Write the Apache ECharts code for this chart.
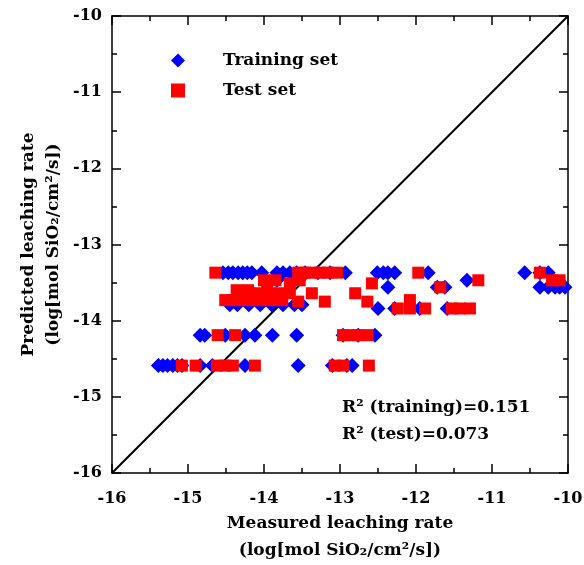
<!DOCTYPE html>
<html>
<head>
<meta charset="utf-8">
<script src="https://cdn.jsdelivr.net/npm/echarts@6/dist/echarts.min.js"></script>
<style>
  html, body { margin: 0; padding: 0; background: #fff; }
  #chart { width: 584px; height: 565px; }
</style>
</head>
<body>
<div id="chart"></div>
<script>
// measured (x) and predicted (y), log[mol SiO2/cm2/s]
const trainX = [
  -14.54, -14.47, -14.41, -14.34, -14.28, -14.22, -14.16, -14.03, -13.83, -13.75, -13.66, -13.57, -13.46, -13.29, -13.13, -12.93,
  -12.51, -12.43, -12.37, -12.28, -11.84, -10.57, -10.37, -10.26,
  -13.83, -11.33, -12.37, -11.72, -11.62, -10.37, -10.26, -10.17, -10.11, -10.04,
  -14.45, -14.35, -14.2, -14.05, -13.9, -13.75, -13.6, -13.5,
  -12.5, -12.28, -11.95, -11.59,
  -14.84, -14.78, -14.51, -14.25, -14.12, -13.89, -13.57, -12.54, -12.96, -12.76,
  -15.39, -15.33, -15.27, -15.2, -15.14, -15.08, -14.84, -14.68, -14.25, -13.55, -13.1, -12.91, -12.84
]
const trainY = [
  -13.37, -13.37, -13.37, -13.37, -13.37, -13.37, -13.37, -13.37, -13.37, -13.37, -13.37, -13.37, -13.37, -13.37, -13.37, -13.37,
  -13.37, -13.37, -13.37, -13.37, -13.37, -13.37, -13.37, -13.37,
  -13.47, -13.47, -13.56, -13.56, -13.56, -13.56, -13.56, -13.56, -13.56, -13.56,
  -13.79, -13.79, -13.79, -13.79, -13.79, -13.79, -13.79, -13.79,
  -13.84, -13.84, -13.84, -13.84,
  -14.19, -14.19, -14.19, -14.19, -14.19, -14.19, -14.19, -14.19, -14.19, -14.19,
  -14.59, -14.59, -14.59, -14.59, -14.59, -14.59, -14.59, -14.59, -14.59, -14.59, -14.59, -14.59, -14.59
]
const testX = [
  -14.64, -13.55, -13.46, -13.37, -13.26, -13.16, -13.04, -11.97, -10.37,
  -13.66, -12.58,
  -14.0, -13.85, -13.53, -11.18, -10.21, -10.11,
  -14.36, -14.21, -13.96,
  -14.32, -14.19, -14.05, -13.92, -13.79, -13.66, -13.37, -12.8,
  -11.68,
  -14.51, -14.41, -14.29, -14.16, -14.03, -13.89, -13.76, -13.55, -13.2, -12.64, -12.08,
  -12.24, -12.08, -11.88, -11.53, -11.42, -11.29,
  -14.61, -14.38, -12.96, -12.86, -12.76, -12.64,
  -15.08, -14.9, -14.62, -14.51, -14.41, -14.12, -13.07, -12.96, -12.62
]
const testY = [
  -13.37, -13.37, -13.37, -13.37, -13.37, -13.37, -13.37, -13.37, -13.37,
  -13.51, -13.51,
  -13.47, -13.47, -13.47, -13.47, -13.47, -13.47,
  -13.6, -13.6, -13.6,
  -13.64, -13.64, -13.64, -13.64, -13.64, -13.64, -13.64, -13.64,
  -13.56,
  -13.73, -13.73, -13.73, -13.73, -13.73, -13.73, -13.73, -13.75, -13.75, -13.75, -13.73,
  -13.84, -13.84, -13.84, -13.84, -13.84, -13.84,
  -14.19, -14.19, -14.19, -14.19, -14.19, -14.19,
  -14.59, -14.59, -14.59, -14.59, -14.59, -14.59, -14.59, -14.59, -14.59
]
const diagonal = [[-16, -16], [-10, -10]]

const serif = 'DejaVu Serif'
const zip = (xs, ys) => xs.map((x, i) => [x, ys[i]])

const chart = echarts.init(document.getElementById('chart'))

const baseAxis = {
  min: -16,
  max: -10,
  interval: 1,
  axisLine: { show: true, lineStyle: { color: '#000', width: 1.5 } },
  axisTick: { show: true, inside: true, length: 9, lineStyle: { color: '#000', width: 1.5 } },
  minorTick: { show: true, splitNumber: 2, length: 5, lineStyle: { color: '#000', width: 1.5 } },
  splitLine: { show: false },
  axisLabel: { color: '#000', fontFamily: serif, fontWeight: 'bold', fontSize: 16 }
}

const nameStyle = { color: '#000', fontFamily: serif, fontWeight: 'bold', fontSize: 17 }

const option = {
  animation: false,
  grid: { left: 112, right: 16, top: 16, bottom: 92, outerBoundsMode: 'none' },
  legend: {
    orient: 'vertical',
    left: 166,
    top: 47,
    itemGap: 13,
    itemWidth: 14,
    itemHeight: 14,
    textStyle: { color: '#000', fontFamily: serif, fontWeight: 'bold', fontSize: 17, padding: [0, 0, 0, 33] },
    data: [
      { name: 'Training set', icon: 'diamond' },
      { name: 'Test set', icon: 'rect' }
    ]
  },
  xAxis: [
    Object.assign({}, baseAxis, {
      type: 'value',
      position: 'bottom',
      axisLabel: Object.assign({}, baseAxis.axisLabel, { margin: 18 }),
      name: 'Measured leaching rate\n(log[mol SiO₂/cm²/s])',
      nameLocation: 'middle',
      nameGap: 37,
      nameMoveOverlap: false,
      nameTextStyle: Object.assign({}, nameStyle, { lineHeight: 27, verticalAlign: 'top' })
    }),
    Object.assign({}, baseAxis, { type: 'value', position: 'top', axisLabel: { show: false } })
  ],
  yAxis: [
    Object.assign({}, baseAxis, {
      type: 'value',
      position: 'left',
      axisLabel: Object.assign({}, baseAxis.axisLabel, { margin: 10 }),
      name: 'Predicted leaching rate\n(log[mol SiO₂/cm²/s])',
      nameLocation: 'middle',
      nameRotate: 90,
      nameGap: 46,
      nameMoveOverlap: false,
      nameTextStyle: Object.assign({}, nameStyle, { lineHeight: 25 })
    }),
    Object.assign({}, baseAxis, { type: 'value', position: 'right', axisLabel: { show: false } })
  ],
  series: [
    {
      type: 'line',
      data: diagonal,
      symbol: 'none',
      lineStyle: { color: '#000', width: 2 },
      silent: true,
      z: 1
    },
    {
      name: 'Training set',
      type: 'scatter',
      symbol: 'diamond',
      symbolSize: 15,
      itemStyle: { color: '#0000ff', opacity: 1 },
      data: zip(trainX, trainY),
      z: 2
    },
    {
      name: 'Test set',
      type: 'scatter',
      symbol: 'rect',
      symbolSize: 12,
      itemStyle: { color: '#ff0000', opacity: 1 },
      data: zip(testX, testY),
      z: 3
    }
  ],
  graphic: [
    {
      type: 'text', left: 342, top: 399,
      style: { text: 'R² (training)=0.151', fill: '#000', font: 'bold 17px "DejaVu Serif"' }
    },
    {
      type: 'text', left: 342, top: 426,
      style: { text: 'R² (test)=0.073', fill: '#000', font: 'bold 17px "DejaVu Serif"' }
    }
  ]
}

chart.setOption(option)
</script>
</body>
</html>
